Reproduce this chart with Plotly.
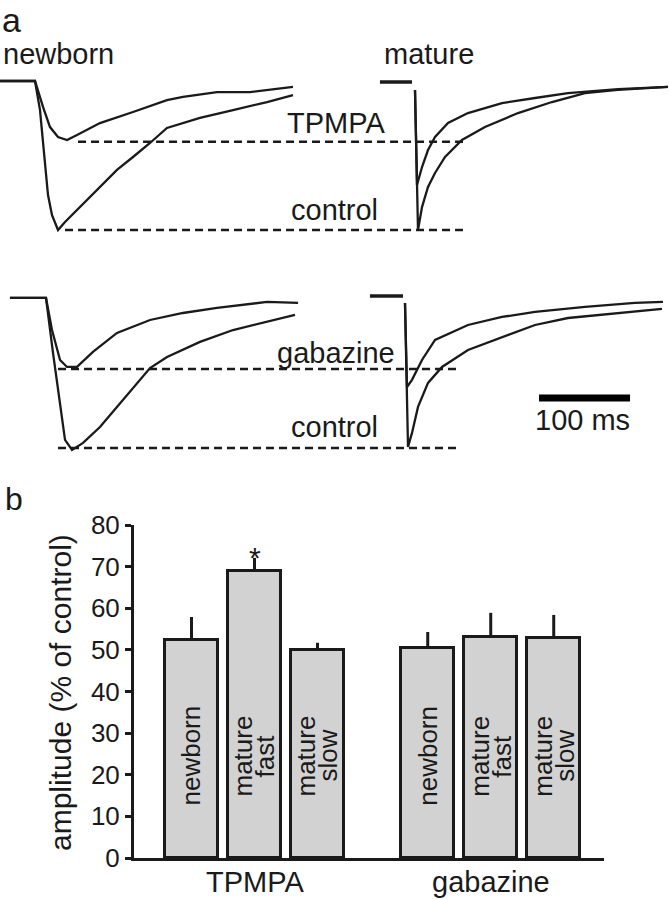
import plotly.graph_objects as go

W, H = 670, 900
FONT = "Liberation Sans, Arial, sans-serif"
INK = "#1a1a1a"

# ---------------- panel a : example traces (time in ms, amplitude in % of control peak) ----
nb_top_t_ctrl = [-38.5, -2.2, 0, 5.5, 11, 14.3, 18.7, 25.3, 33, 49.5, 71.4, 90.1, 107.7, 126.4, 145, 181.3, 217.6, 255, 283.5]
nb_top_a_ctrl = [0, 0, 0, -19.5, -53, -76.5, -90, -100, -94.6, -84.6, -71.1, -59.7, -51, -41.6, -31.5, -24.8, -19.5, -14.1, -9.4]
nb_top_t_tpmpa = [-38.5, -2.2, 0, 8.8, 16.5, 25.3, 35.2, 46.2, 71.4, 107.7, 145, 162.6, 200, 236.3, 283.5]
nb_top_a_tpmpa = [0, 0, 0, -17.4, -30.9, -37.6, -39.6, -36.2, -28.2, -20.8, -12.8, -10.7, -7.4, -7.4, -4.0]

ma_top_t_base = [-38.5, -3.3]
ma_top_a_base = [-0.7, -0.7]
ma_top_t_ctrl = [0, 3.3, 7.7, 14.3, 22, 33, 51.6, 76.9, 113.2, 150.5, 186.8, 223, 278]
ma_top_a_ctrl = [-6, -100, -84.6, -71.1, -61.7, -51, -39.6, -30.9, -21.5, -14.1, -8.1, -6, -4.0]
ma_top_t_tpmpa = [0, 2.2, 7.7, 14.3, 22, 36.3, 58.2, 95.6, 131.9, 168.1, 223, 278]
ma_top_a_tpmpa = [-6, -69.8, -57.7, -46.3, -37.6, -28.2, -21.5, -14.8, -11.4, -8.1, -5.4, -4.0]

top_dash_levels = [-40.7, -100]          # TPMPA, control
top_dash_t = [[47.3, 470.3], [33, 470.3]]

nb_bot_t_ctrl = [-39.6, -3.3, 0, 7.7, 15.4, 20.9, 28.6, 40.7, 59.3, 78, 95.6, 114.3, 133, 169.2, 205.5, 242.9, 273.6]
nb_bot_a_ctrl = [0, 0, 0, -36.2, -69.1, -93.4, -100, -95.4, -84.9, -71.7, -58.6, -46.1, -38.8, -28.9, -21.1, -15.8, -11.2]
nb_bot_t_gbz = [-39.6, -3.3, 0, 6.6, 15.4, 23.1, 34.1, 51.6, 78, 114.3, 150.5, 187.9, 242.9, 277]
nb_bot_a_gbz = [0, 0, 0, -21.1, -40.8, -45.4, -45.4, -35.5, -23, -14.5, -9.9, -6.6, -2.6, -3.3]

ma_bot_t_base = [-38.5, -2.2]
ma_bot_a_base = [1.3, 1.3]
ma_bot_t_ctrl = [0, 3.3, 7.7, 14.3, 25.3, 40.7, 69.2, 106.6, 142.9, 179.1, 234.1, 282.4]
ma_bot_a_ctrl = [-3.3, -98, -88.8, -71.7, -55.9, -45.4, -34.2, -25.7, -17.8, -13.2, -9.9, -7.2]
ma_bot_t_gbz = [0, 2.2, 7.7, 18.7, 33, 69.2, 106.6, 142.9, 197.8, 252.7, 283.5]
ma_bot_a_gbz = [-3.3, -58.6, -53.9, -40.8, -27.6, -17.8, -12.5, -9.2, -5.9, -3.3, -2.6]

bot_dash_levels = [-46.7, -98.7]         # gabazine, control
bot_dash_t = [[13.2, 451.6], [13.2, 451.6]]

scale_ms = 100

# ---------------- panel b : bar chart ----------------
drugs = ["TPMPA", "gabazine"]
cell_types = ["newborn", "mature<br>fast", "mature<br>slow"]
tpmpa_vals = [52.4, 69.0, 50.0]
tpmpa_sem = [5.5, 3.1, 1.7]
gabazine_vals = [50.5, 53.1, 52.9]
gabazine_sem = [3.8, 5.8, 5.5]
significant = [[False, True, False], [False, False, False]]
y_ticks = [0, 10, 20, 30, 40, 50, 60, 70, 80]
y_title = "amplitude (% of control)"


def px(x):
    return x / W


def py(y):
    return 1 - y / H


fig = go.Figure()

trace_line = dict(color=INK, width=2.3)
dash_line = dict(color=INK, width=2.5, dash="8px,5px")

# top row
fig.add_trace(go.Scatter(x=nb_top_t_ctrl, y=nb_top_a_ctrl, mode="lines", line=trace_line, xaxis="x", yaxis="y"))
fig.add_trace(go.Scatter(x=nb_top_t_tpmpa, y=nb_top_a_tpmpa, mode="lines", line=trace_line, xaxis="x", yaxis="y"))
for lvl, tt in zip(top_dash_levels, top_dash_t):
    fig.add_trace(go.Scatter(x=tt, y=[lvl, lvl], mode="lines", line=dash_line, xaxis="x", yaxis="y"))
fig.add_trace(go.Scatter(x=ma_top_t_base, y=ma_top_a_base, mode="lines", line=dict(color=INK, width=3.5), xaxis="x2", yaxis="y"))
fig.add_trace(go.Scatter(x=ma_top_t_ctrl, y=ma_top_a_ctrl, mode="lines", line=trace_line, xaxis="x2", yaxis="y"))
fig.add_trace(go.Scatter(x=ma_top_t_tpmpa, y=ma_top_a_tpmpa, mode="lines", line=trace_line, xaxis="x2", yaxis="y"))

# bottom row
fig.add_trace(go.Scatter(x=nb_bot_t_ctrl, y=nb_bot_a_ctrl, mode="lines", line=trace_line, xaxis="x3", yaxis="y2"))
fig.add_trace(go.Scatter(x=nb_bot_t_gbz, y=nb_bot_a_gbz, mode="lines", line=trace_line, xaxis="x3", yaxis="y2"))
for lvl, tt in zip(bot_dash_levels, bot_dash_t):
    fig.add_trace(go.Scatter(x=tt, y=[lvl, lvl], mode="lines", line=dash_line, xaxis="x3", yaxis="y2"))
fig.add_trace(go.Scatter(x=ma_bot_t_base, y=ma_bot_a_base, mode="lines", line=dict(color=INK, width=3.5), xaxis="x4", yaxis="y2"))
fig.add_trace(go.Scatter(x=ma_bot_t_ctrl, y=ma_bot_a_ctrl, mode="lines", line=trace_line, xaxis="x4", yaxis="y2"))
fig.add_trace(go.Scatter(x=ma_bot_t_gbz, y=ma_bot_a_gbz, mode="lines", line=trace_line, xaxis="x4", yaxis="y2"))

# scale bar
sb_start, sb_level = 147.3, -65.8
fig.add_trace(go.Scatter(x=[sb_start, sb_start + scale_ms], y=[sb_level, sb_level], mode="lines",
                         line=dict(color="#000", width=7), xaxis="x4", yaxis="y2"))

# bars
group_gap = 1.75
bar_w = 0.84
label_y = 24.5
line_gap_px = 22
annotations = []
for gi, (vals, sems) in enumerate([(tpmpa_vals, tpmpa_sem), (gabazine_vals, gabazine_sem)]):
    xs = [gi * group_gap + gi * (len(cell_types) - 1) + i for i in range(len(cell_types))]
    fig.add_trace(go.Bar(
        x=xs, y=vals, width=bar_w, xaxis="x5", yaxis="y3",
        marker=dict(color="#d2d2d2", line=dict(color=INK, width=3)),
        error_y=dict(type="data", symmetric=False, array=sems, arrayminus=[0] * len(sems),
                     color=INK, thickness=3, width=0),
    ))
    for i, lab in enumerate(cell_types):
        lines = lab.split("<br>")
        n = len(lines)
        for k, ln in enumerate(lines):
            annotations.append(dict(x=xs[i], y=label_y, xref="x5", yref="y3", text=ln, textangle=-90,
                                    xanchor="center", yanchor="middle",
                                    xshift=(k - (n - 1) / 2) * line_gap_px,
                                    showarrow=False, font=dict(size=26, color=INK, family=FONT)))
        if significant[gi][i]:
            annotations.append(dict(x=xs[i], y=vals[i] + sems[i], xref="x5", yref="y3", text="*",
                                    showarrow=False, xanchor="center", yanchor="middle",
                                    font=dict(size=30, color=INK, family=FONT)))
    annotations.append(dict(x=xs[1], y=py(882), xref="x5", yref="paper", text=drugs[gi],
                            showarrow=False, xanchor="center", yanchor="middle",
                            font=dict(size=29, color=INK, family=FONT)))

# panel-a text
def lab(text, x, y, size=29, xanchor="center", pad=1):
    annotations.append(dict(x=px(x), y=py(y), xref="paper", yref="paper", text=text, showarrow=False,
                            xanchor=xanchor, yanchor="middle", borderpad=pad,
                            font=dict(size=size, color=INK, family=FONT)))

lab("a", 1, 20, 34, "left", 0)
lab("newborn", 58, 54)
lab("mature", 429, 54)
lab("TPMPA", 336, 123)
lab("control", 334, 210)
lab("gabazine", 336, 353)
lab("control", 334, 427)
lab("100 ms", 582, 420)
lab("b", 3, 499, 32, "left")
annotations.append(dict(x=px(60), y=py(693), xref="paper", yref="paper", text=y_title, textangle=-90,
                        xanchor="center", yanchor="middle",
                        showarrow=False, font=dict(size=30, color=INK, family=FONT)))

hidden = dict(visible=False, fixedrange=True, automargin=False)
fig.update_layout(
    width=W, height=H, margin=dict(l=0, r=0, t=0, b=0, pad=0, autoexpand=False),
    paper_bgcolor="white", plot_bgcolor="rgba(0,0,0,0)", showlegend=False,
    font=dict(family=FONT, color=INK),
    xaxis=dict(domain=[0, 1], range=[-38.46, 697.8], anchor="y", **hidden),
    xaxis2=dict(overlaying="x", range=[-456.04, 280.22], anchor="y", **hidden),
    yaxis=dict(domain=[py(250), py(60)], range=[-113.4, 14.1], anchor="x", **hidden),
    xaxis3=dict(domain=[0, 1], range=[-50.55, 685.7], anchor="y2", **hidden),
    xaxis4=dict(overlaying="x3", range=[-445.05, 291.21], anchor="y2", **hidden),
    yaxis2=dict(domain=[py(470), py(275)], range=[-113.2, 15.1], anchor="x3", **hidden),
    xaxis5=dict(domain=[px(134), px(604)], range=[-0.913, 6.548], anchor="y3", automargin=False,
                showline=True, linecolor=INK, linewidth=3, showticklabels=False, ticks="",
                showgrid=False, zeroline=False, fixedrange=True),
    yaxis3=dict(domain=[py(858), py(525)], range=[0, 80], anchor="x5", automargin=False,
                showline=True, linecolor=INK, linewidth=3, ticks="outside", ticklen=6, tickwidth=3,
                tickcolor=INK, tickvals=y_ticks, tickfont=dict(size=26, color=INK, family=FONT),
                showgrid=False, zeroline=False, fixedrange=True),
    annotations=annotations,
    bargap=0,
)

fig.write_html("out.html", config={"displayModeBar": False},
               post_script="document.body.style.margin='0';document.body.style.overflow='hidden';")
